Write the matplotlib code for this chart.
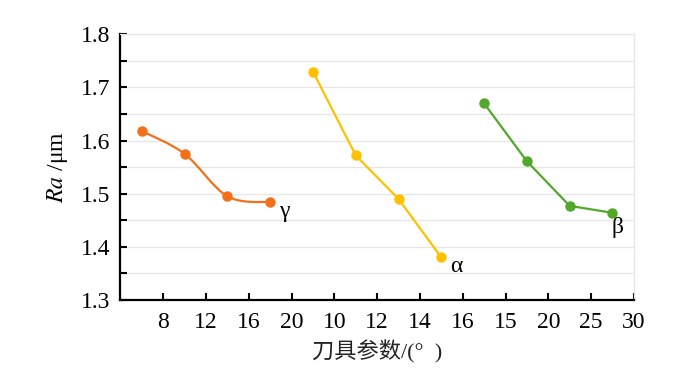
import numpy as np
import matplotlib
matplotlib.use('Agg')
import matplotlib.pyplot as plt
from matplotlib.path import Path
from matplotlib.patches import PathPatch

plt.rcParams['font.family'] = ['Liberation Serif', 'Noto Sans CJK SC', 'DejaVu Sans']
plt.rcParams['mathtext.fontset'] = 'stix'

# data
gamma_deg = [6, 10, 14, 18]
gamma_ra = [1.618, 1.575, 1.495, 1.484]
alpha_deg = [9, 11, 13, 15]
alpha_ra = [1.730, 1.572, 1.490, 1.380]
beta_deg = [12.5, 17.5, 22.5, 27.5]
beta_ra = [1.670, 1.561, 1.477, 1.464]

tick_labels = ['8', '12', '16', '20', '10', '12', '14', '16', '15', '20', '25', '30']

# each parameter sits in its own block of 4 slots on the shared x axis
def pos_gamma(v):
    return (np.asarray(v) - 4) / 4.0

def pos_alpha(v):
    return 5 + (np.asarray(v) - 10) / 2.0

def pos_beta(v):
    return 9 + (np.asarray(v) - 15) / 5.0

c_gamma = '#F2701A'
c_alpha = '#FFC000'
c_beta = '#52A82A'


def smooth_path(x, y):
    # Catmull-Rom style bezier, like a smoothed office chart line
    x = list(x)
    y = list(y)
    n = len(x)
    verts = [(x[0], y[0])]
    codes = [Path.MOVETO]
    for i in range(n - 1):
        x0, y0 = (x[i - 1], y[i - 1]) if i > 0 else (x[i], y[i])
        x3, y3 = (x[i + 2], y[i + 2]) if i + 2 < n else (x[i + 1], y[i + 1])
        t = 1 / 6.0
        c1 = (x[i] + (x[i + 1] - x0) * t, y[i] + (y[i + 1] - y0) * t)
        c2 = (x[i + 1] - (x3 - x[i]) * t, y[i + 1] - (y3 - y[i]) * t)
        verts += [c1, c2, (x[i + 1], y[i + 1])]
        codes += [Path.CURVE4] * 3
    return Path(verts, codes)


fig = plt.figure(figsize=(6.92, 3.9), dpi=100)
ax = fig.add_axes([0.174, 0.231, 0.742, 0.681])

for yv in np.arange(1.35, 1.801, 0.05):
    ax.axhline(yv, color='#E6E6E6', lw=0.9, zorder=0)

gx = pos_gamma(gamma_deg)
ax.add_patch(PathPatch(smooth_path(gx, gamma_ra), fill=False, ec=c_gamma, lw=1.6, zorder=2))
ax.plot(gx, gamma_ra, 'o', color=c_gamma, ms=6.5, zorder=3)
ax.plot(pos_alpha(alpha_deg), alpha_ra, '-o', color=c_alpha, lw=1.6, ms=6.5, zorder=3)
ax.plot(pos_beta(beta_deg), beta_ra, '-o', color=c_beta, lw=1.6, ms=6.5, zorder=3)

ax.text(gx[-1] + 0.2, gamma_ra[-1] - 0.018, 'γ', fontsize=17, va='center', ha='left')
ax.text(pos_alpha(alpha_deg)[-1] + 0.2, alpha_ra[-1] - 0.018, 'α', fontsize=17, va='center', ha='left')
ax.text(pos_beta(beta_deg)[-1] - 0.02, beta_ra[-1] - 0.028, 'β', fontsize=17, va='center', ha='left')

ax.set_xlim(0, 12)
ax.set_ylim(1.3, 1.8)
ax.set_xticks(np.arange(1, 13))
ax.set_xticklabels(tick_labels)
ax.set_yticks(np.arange(1.3, 1.81, 0.1))
ax.set_yticklabels(['%.1f' % v for v in np.arange(1.3, 1.81, 0.1)])
ax.set_yticks(np.arange(1.35, 1.8, 0.1), minor=True)
ax.tick_params(axis='both', which='both', direction='in', length=5, width=1.5, labelsize=17)
ax.tick_params(axis='x', pad=9)
ax.tick_params(axis='y', pad=7)

for s in ['left', 'bottom']:
    ax.spines[s].set_linewidth(1.6)
    ax.spines[s].set_color('black')
for s in ['top', 'right']:
    ax.spines[s].set_linewidth(0.9)
    ax.spines[s].set_color('#E6E6E6')

ax.set_xlabel('刀具参数/(°  )', fontsize=16, color='#222222', labelpad=5)
ax.set_ylabel(r'$\mathit{Ra}$ /μm', fontsize=17, labelpad=8)

fig.savefig('out.png', dpi=100)
